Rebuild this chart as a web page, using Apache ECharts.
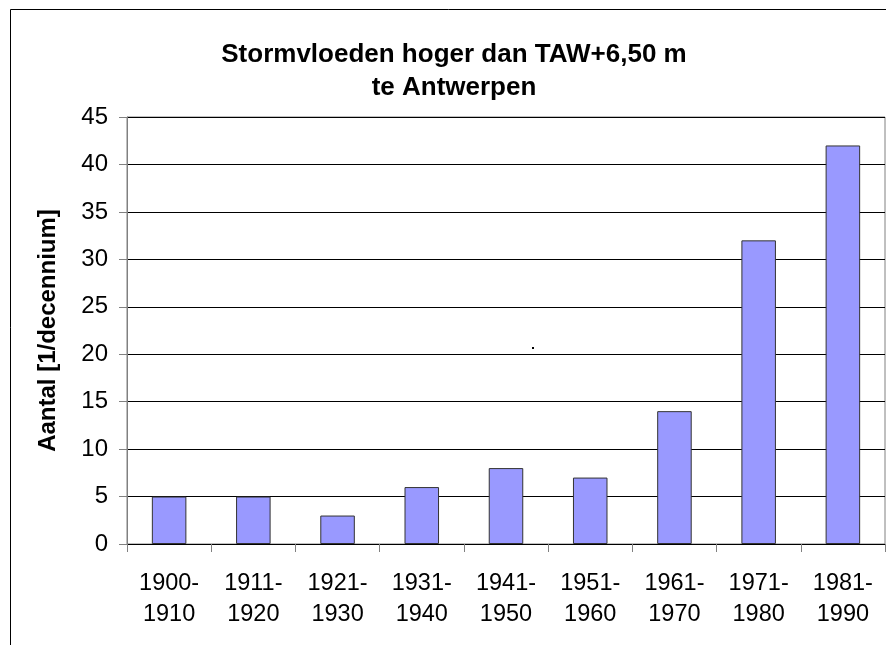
<!DOCTYPE html>
<html>
<head>
<meta charset="utf-8">
<script src="https://cdn.jsdelivr.net/npm/echarts@6/dist/echarts.min.js"></script>
<style>
  html, body { margin: 0; padding: 0; background: #fff; }
  #main { width: 886px; height: 645px; }
</style>
</head>
<body>
<div id="main"></div>
<script>
var categories = ['1900-\n1910', '1911-\n1920', '1921-\n1930', '1931-\n1940', '1941-\n1950',
                  '1951-\n1960', '1961-\n1970', '1971-\n1980', '1981-\n1990'];
var counts = [5, 5, 3, 6, 8, 7, 14, 32, 42];
var yTicks = [0, 5, 10, 15, 20, 25, 30, 35, 40, 45];

var myChart = echarts.init(document.getElementById('main'));
var fontFam = '"Liberation Sans", Arial, sans-serif';

option = {
    animation: false,
    backgroundColor: '#fff',
    title: {
        text: 'Stormvloeden hoger dan TAW+6,50 m\nte Antwerpen',
        left: 449,
        top: 33,
        textAlign: 'center',
        textStyle: {
            fontFamily: fontFam,
            fontSize: 26,
            fontWeight: 'bold',
            color: '#000',
            lineHeight: 33
        }
    },
    graphic: [
        {
            type: 'rect',
            shape: { x: 10.5, y: 9.5, width: 1000, height: 1000 },
            style: { fill: 'none', stroke: '#000', lineWidth: 1 },
            silent: true
        },
        {
            type: 'rect',
            shape: { x: 532, y: 347, width: 2, height: 2 },
            style: { fill: '#000' },
            silent: true
        }
    ],
    grid: {
        left: 127,
        right: 1,
        top: 117,
        bottom: 101,
        show: true,
        borderColor: '#808080',
        borderWidth: 1,
        backgroundColor: 'transparent'
    },
    xAxis: {
        type: 'category',
        data: categories,
        axisTick: {
            show: true,
            alignWithLabel: false,
            length: 8,
            lineStyle: { color: '#808080' }
        },
        axisLine: {
            lineStyle: { color: '#000', width: 1 }
        },
        axisLabel: {
            fontFamily: fontFam,
            fontSize: 23.5,
            color: '#000',
            lineHeight: 31,
            margin: 24,
            interval: 0
        }
    },
    yAxis: {
        type: 'value',
        min: yTicks[0],
        max: yTicks[yTicks.length - 1],
        interval: 5,
        name: 'Aantal [1/decennium]',
        nameLocation: 'middle',
        nameGap: 67,
        nameTextStyle: {
            fontFamily: fontFam,
            fontSize: 24,
            fontWeight: 'bold',
            color: '#000'
        },
        axisLine: {
            show: true,
            lineStyle: { color: '#808080', width: 1 }
        },
        axisTick: {
            show: true,
            length: 8,
            lineStyle: { color: '#808080' }
        },
        axisLabel: {
            fontFamily: fontFam,
            fontSize: 24,
            color: '#000',
            margin: 19
        },
        splitLine: {
            lineStyle: { color: '#000', width: 1 }
        }
    },
    series: [
        {
            type: 'bar',
            data: counts,
            barWidth: '41%',
            itemStyle: {
                color: '#9999FF',
                borderColor: '#333',
                borderWidth: 1
            }
        }
    ]
};
myChart.setOption(option);
</script>
</body>
</html>
